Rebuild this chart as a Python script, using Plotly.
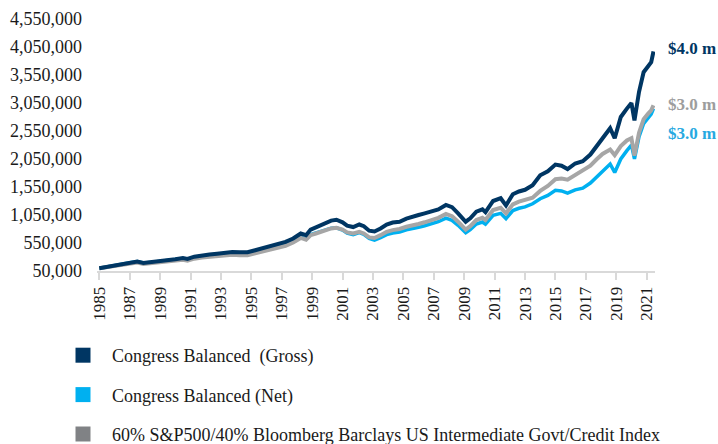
import plotly.graph_objects as go

years = [1985.0, 1985.5, 1986.0, 1986.5, 1987.0, 1987.5, 1987.9, 1988.5, 1989.0, 1989.5,
         1990.0, 1990.5, 1990.8, 1991.25, 1991.75, 1992.25, 1992.75, 1993.25, 1993.75, 1994.25,
         1994.75, 1995.25, 1995.75, 1996.25, 1996.75, 1997.25, 1997.75, 1998.25, 1998.6, 1998.9,
         1999.25, 1999.75, 2000.25, 2000.6, 2001.0, 2001.3, 2001.7, 2002.1, 2002.4, 2002.75,
         2003.1, 2003.5, 2003.9, 2004.3, 2004.75, 2005.2, 2005.6, 2006.0, 2006.4, 2006.9,
         2007.3, 2007.8, 2008.2, 2008.6, 2009.1, 2009.4, 2009.8, 2010.2, 2010.4, 2010.9,
         2011.4, 2011.75, 2012.2, 2012.6, 2013.0, 2013.5, 2014.0, 2014.5, 2015.0, 2015.4,
         2015.8, 2016.3, 2016.8, 2017.3, 2017.7, 2018.1, 2018.6, 2018.9, 2019.3, 2019.7,
         2020.0, 2020.2, 2020.5, 2020.8, 2021.1, 2021.3, 2021.45]

# values in thousands of dollars
gross = [100, 125, 150, 185, 200, 220, 195, 210, 225, 250,
         260, 280, 265, 305, 330, 345, 360, 375, 390, 385,
         385, 420, 460, 495, 525, 570, 630, 720, 690, 790,
         830, 900, 950, 965, 920, 860, 835, 880, 850, 770,
         755, 810, 880, 915, 930, 985, 1010, 1050, 1080, 1110,
         1150, 1230, 1190, 1080, 930, 990, 1110, 1150, 1100, 1300,
         1350, 1220, 1420, 1470, 1500, 1580, 1760, 1830, 1950, 1930,
         1870, 1970, 2010, 2130, 2280, 2420, 2600, 2420, 2800, 2950,
         3050, 2740, 3250, 3600, 3720, 3780, 3970]

net = [100, 125, 148, 183, 197, 217, 192, 206, 220, 245,
       254, 272, 257, 296, 318, 332, 346, 358, 372, 365,
       362, 393, 428, 458, 484, 522, 572, 650, 622, 700,
       730, 780, 815, 822, 780, 725, 700, 735, 705, 630,
       600, 645, 700, 728, 745, 785, 800, 830, 858, 895,
       930, 995, 955, 865, 735, 790, 890, 925, 885, 1045,
       1080, 985, 1130, 1170, 1195, 1250, 1340, 1400, 1490, 1480,
       1440, 1500, 1530, 1620, 1720, 1830, 1960, 1810, 2050, 2200,
       2300, 2050, 2450, 2680, 2790, 2850, 2950]

index6040 = [100, 118, 140, 165, 180, 200, 175, 190, 205, 225,
             235, 250, 235, 270, 290, 300, 315, 330, 340, 330,
             330, 365, 400, 430, 460, 500, 560, 640, 610, 690,
             720, 770, 810, 820, 790, 740, 720, 750, 720, 650,
             640, 690, 750, 780, 800, 840, 860, 890, 920, 960,
             1000, 1070, 1030, 930, 790, 850, 960, 1000, 960, 1140,
             1180, 1080, 1240, 1290, 1320, 1360, 1480, 1570, 1690, 1700,
             1680, 1760, 1830, 1930, 2040, 2140, 2220, 2120, 2280, 2380,
             2420, 2110, 2520, 2760, 2860, 2920, 3010]

names = ["Congress Balanced  (Gross)", "Congress Balanced (Net)",
         "60% S&P500/40% Bloomberg Barclays US Intermediate Govt/Credit Index"]
end_labels = ["$4.0 m", "$3.0 m", "$3.0 m"]

y_ticks = list(range(50000, 4550001, 500000))
x_ticks = list(range(1985, 2022, 2))

NAVY = "#003663"
CYAN = "#00b0f0"
GRAY_LINE = "#a6a6a6"
GRAY_LEG = "#808285"
GRAY_TXT = "#9d9d9d"
CYAN_TXT = "#27a9e1"
FONT = "Liberation Serif"

def dollars(vals):
    return [v * 1000 for v in vals]

fig = go.Figure()
fig.add_trace(go.Scatter(x=years, y=dollars(net), mode="lines",
                         line=dict(color=CYAN, width=3.5), showlegend=False, hoverinfo="skip"))
fig.add_trace(go.Scatter(x=years, y=dollars(index6040), mode="lines",
                         line=dict(color=GRAY_LINE, width=4), showlegend=False, hoverinfo="skip"))
fig.add_trace(go.Scatter(x=years, y=dollars(gross), mode="lines",
                         line=dict(color=NAVY, width=4), showlegend=False, hoverinfo="skip"))

# legend entries (square swatches)
for nm, col, grp in zip(names, [NAVY, CYAN, GRAY_LEG], ["a", "b", "c"]):
    fig.add_trace(go.Scatter(x=[None], y=[None], mode="markers", name=nm,
                             marker=dict(symbol="square", size=15, color=col),
                             legendgroup=grp, showlegend=True))

# end-of-line value labels
px_left, px_width = 97, 558
def paper_x(px):
    return (px - px_left) / px_width

label_x = paper_x(666)
fig.add_annotation(x=label_x, xref="paper", y=gross[-1] * 1000 + 60000, yref="y",
                   text="<b>" + end_labels[0] + "</b>", showarrow=False, xanchor="left",
                   font=dict(family=FONT, size=17, color=NAVY))
fig.add_annotation(x=label_x, xref="paper", y=index6040[-1] * 1000 + 20000, yref="y",
                   text="<b>" + end_labels[1] + "</b>", showarrow=False, xanchor="left",
                   font=dict(family=FONT, size=17, color=GRAY_TXT))
fig.add_annotation(x=label_x, xref="paper", y=net[-1] * 1000 - 440000, yref="y",
                   text="<b>" + end_labels[2] + "</b>", showarrow=False, xanchor="left",
                   font=dict(family=FONT, size=17, color=CYAN_TXT))

fig.update_layout(
    width=718, height=444,
    margin=dict(l=97, r=63, t=19, b=173, autoexpand=False),
    plot_bgcolor="white", paper_bgcolor="white",
    font=dict(family=FONT, size=17, color="#1a1a1a"),
    xaxis=dict(range=[1984.85, 2021.55], tickvals=x_ticks, ticktext=[str(t) for t in x_ticks],
               tickangle=-90, showgrid=False, zeroline=False,
               showline=True, linecolor="#d9d9d9", linewidth=2,
               ticks="outside", ticklen=7, tickwidth=2, tickcolor="#d9d9d9",
               tickfont=dict(family=FONT, size=17, color="#1a1a1a")),
    yaxis=dict(range=[50000, 4550000], tickvals=y_ticks,
               ticktext=[f"{v:,}" for v in y_ticks],
               showgrid=False, zeroline=False, showline=False, ticks="",
               ticklabelstandoff=14,
               tickfont=dict(family=FONT, size=18, color="#1a1a1a")),
    legend=dict(xref="container", yref="container", x=54 / 718, y=1 - 337 / 444,
                xanchor="left", yanchor="top", tracegroupgap=13, itemwidth=48,
                font=dict(family=FONT, size=18, color="#1a1a1a"),
                bgcolor="rgba(0,0,0,0)", itemsizing="trace"),
)

fig.write_html("out.html", post_script="document.body.style.margin='0';",
               config={"displayModeBar": False})
